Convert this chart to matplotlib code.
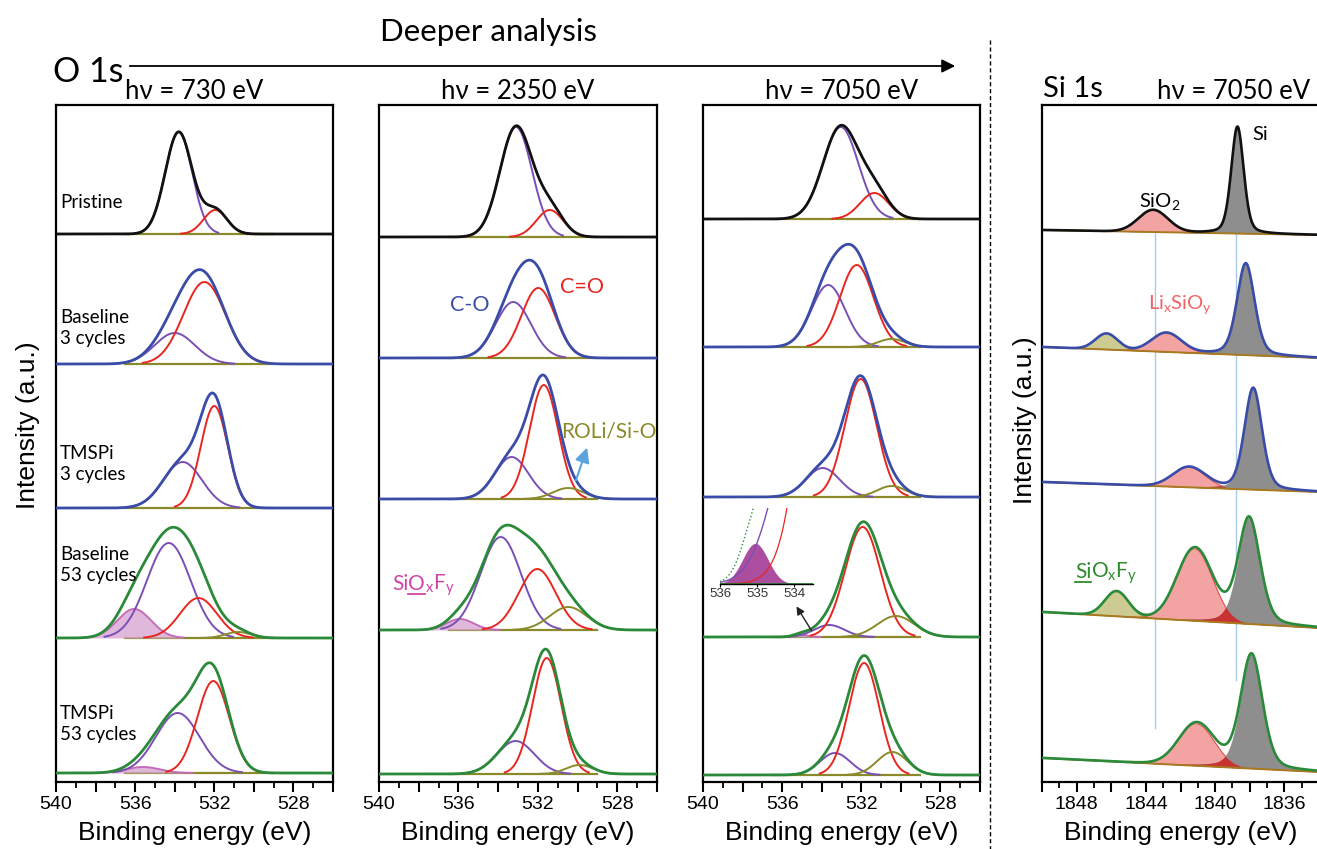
import numpy as np
import matplotlib.pyplot as plt
from matplotlib.patches import FancyArrowPatch
from matplotlib.lines import Line2D
from matplotlib.ticker import MultipleLocator, FuncFormatter

plt.rcParams['font.family'] = ['Liberation Sans', 'DejaVu Sans']
plt.rcParams['mathtext.fontset'] = 'custom'
plt.rcParams['mathtext.rm'] = 'Lato'

# ---------------- data ----------------
# stacking order of the spectra (top -> bottom)
samples = ['Pristine', 'Baseline\n3 cycles', 'TMSPi\n3 cycles', 'Baseline\n53 cycles', 'TMSPi\n53 cycles']
energies = ['730', '2350', '7050']

# baseline position of every spectrum (pixel row in the figure)
base_730 = [234, 364, 508, 638, 773]
base_2350 = [237, 358, 499, 630, 774]
base_7050 = [219, 347, 497, 637, 775]

# O 1s components: centre (eV), height (px), FWHM (eV)
co_c_730 = [533.8, 534.0, 533.6, 534.3, 533.85]
co_h_730 = [102, 31, 46, 95, 60]
co_w_730 = [1.6, 2.4, 2.3, 2.6, 2.6]
cdo_c_730 = [531.95, 532.5, 532.0, 532.8, 532.05]
cdo_h_730 = [24, 82, 102, 40, 92]
cdo_w_730 = [1.4, 2.5, 1.6, 2.2, 1.9]
roli_c_730 = [530.8, 530.8, 530.8, 530.8, 530.8]
roli_h_730 = [0, 0, 0, 6, 0]
roli_w_730 = [1.5, 1.5, 1.5, 1.5, 1.5]
siof_c_730 = [536.0, 536.0, 536.0, 536.05, 535.6]
siof_h_730 = [0, 0, 0, 29, 6]
siof_w_730 = [2.0, 2.0, 2.0, 2.0, 2.0]

co_c_2350 = [533.1, 533.24, 533.32, 533.87, 533.12]
co_h_2350 = [110, 56, 42, 93, 33]
co_w_2350 = [1.9, 2.1, 2.0, 2.4, 2.2]
cdo_c_2350 = [531.4, 531.98, 531.7, 532.03, 531.55]
cdo_h_2350 = [27, 70, 114, 61, 116]
cdo_w_2350 = [1.6, 2.0, 1.7, 2.2, 1.7]
roli_c_2350 = [530.5, 530.5, 530.47, 530.47, 529.9]
roli_h_2350 = [0, 0, 11, 23, 9]
roli_w_2350 = [1.8, 1.8, 1.8, 2.2, 1.6]
siof_c_2350 = [535.9, 535.9, 535.9, 535.92, 535.9]
siof_h_2350 = [0, 0, 0, 11, 0]
siof_w_2350 = [1.6, 1.6, 1.6, 1.6, 1.6]

co_c_7050 = [533.04, 533.67, 533.95, 533.62, 533.33]
co_h_7050 = [92, 62, 29, 12, 22]
co_w_7050 = [2.1, 2.0, 2.0, 1.8, 1.8]
cdo_c_7050 = [531.34, 532.23, 532.03, 531.93, 531.86]
cdo_h_7050 = [26, 82, 118, 110, 112]
cdo_w_7050 = [1.7, 2.0, 1.9, 2.1, 1.8]
roli_c_7050 = [530.5, 530.47, 530.47, 530.25, 530.43]
roli_h_7050 = [0, 8, 11, 21, 23]
roli_w_7050 = [1.6, 1.6, 1.7, 2.2, 1.8]
siof_c_7050 = [535.05, 535.05, 535.05, 535.05, 535.05]
siof_h_7050 = [0, 0, 0, 2.3, 0]
siof_w_7050 = [0.8, 0.8, 0.8, 0.8, 0.8]

# Si 1s (hv = 7050 eV): sloped baseline, left / right end (pixel row)
si_base_left = [230, 347, 482, 612, 758]
si_base_right = [235, 358, 492, 628, 772]
si_c = [1838.71, 1838.23, 1837.8, 1838.04, 1837.9]
si_h = [107, 92, 102, 107, 115]
si_w = [0.85, 1.2, 1.2, 1.5, 1.5]
sio_c = [1843.58, 1842.81, 1841.5, 1841.17, 1841.07]
sio_h = [22, 19, 20, 72, 42]
sio_w = [2.0, 2.0, 2.2, 2.4, 2.4]
siofy_c = [1846.0, 1846.27, 1846.0, 1845.69, 1846.0]
siofy_h = [0, 16, 0, 25, 0]
siofy_w = [1.5, 1.5, 1.5, 1.6, 1.5]

# ---------------- styling ----------------
W, H = 1317, 849
TOP, BOT = 105, 782
BLACK, BLUE, GREEN = '#111111', '#3a4ca8', '#2b8a3a'
PURPLE, RED, OLIVE = '#7a4fb5', '#e8261f', '#8a8a2a'
PINK_FILL, PINK_EDGE = '#d9a6d3', '#c46cba'
row_color = [BLACK, BLUE, BLUE, GREEN, GREEN]
LATO = ['Lato', 'DejaVu Sans']

fig = plt.figure(figsize=(W / 100, H / 100), dpi=100)


def px_axes(x0, x1, y0, y1):
    return fig.add_axes([x0 / W, 1 - y1 / H, (x1 - x0) / W, (y1 - y0) / H])


def ftext(x, y, s, **kw):
    return fig.text(x / W, 1 - y / H, s, **kw)


def peak(e, c, h, w, eta=0.0):
    d = (e - c) / w
    return h * ((1 - eta) * np.exp(-4 * np.log(2) * d ** 2) + eta / (1 + 4 * d ** 2))


def style_axis(ax, lo, hi):
    ax.set_xlim(lo, hi)
    ax.set_ylim(0, BOT - TOP)
    ax.set_yticks([])
    for s in ax.spines.values():
        s.set_linewidth(1.6)
    ax.xaxis.set_major_locator(MultipleLocator(2))
    ax.xaxis.set_minor_locator(MultipleLocator(1))
    ax.xaxis.set_major_formatter(FuncFormatter(lambda v, p: f'{v:.0f}' if round(v) % 4 == 0 else ''))
    ax.tick_params(axis='x', which='major', direction='out', length=7, width=1.5, labelsize=14, pad=3)
    ax.tick_params(axis='x', which='minor', direction='out', length=4, width=1.3)


# ---------------- O 1s columns ----------------
o1s = [
    (56, 333, base_730, (co_c_730, co_h_730, co_w_730), (cdo_c_730, cdo_h_730, cdo_w_730),
     (roli_c_730, roli_h_730, roli_w_730), (siof_c_730, siof_h_730, siof_w_730)),
    (379, 657, base_2350, (co_c_2350, co_h_2350, co_w_2350), (cdo_c_2350, cdo_h_2350, cdo_w_2350),
     (roli_c_2350, roli_h_2350, roli_w_2350), (siof_c_2350, siof_h_2350, siof_w_2350)),
    (703, 980, base_7050, (co_c_7050, co_h_7050, co_w_7050), (cdo_c_7050, cdo_h_7050, cdo_w_7050),
     (roli_c_7050, roli_h_7050, roli_w_7050), (siof_c_7050, siof_h_7050, siof_w_7050)),
]

e = np.linspace(540, 526, 1000)
for x0, x1, base, co, cdo, roli, siof in o1s:
    ax = px_axes(x0, x1, TOP, BOT)
    style_axis(ax, 540, 526)
    for r in range(5):
        y0 = BOT - base[r]
        total = np.zeros_like(e)
        # olive background under the fitted region
        fit = (e < 536.5) & (e > 529.0)
        ax.plot(e[fit], np.full(fit.sum(), y0), color=OLIVE, lw=1.6, zorder=2)
        for (cs, hs, ws), col in [(siof, PINK_EDGE), (co, PURPLE), (cdo, RED), (roli, OLIVE)]:
            if hs[r] <= 0:
                continue
            comp = peak(e, cs[r], hs[r], ws[r])
            total += comp
            m = np.abs(e - cs[r]) < 1.25 * ws[r]
            if col == PINK_EDGE:
                ax.fill_between(e[m], y0, y0 + comp[m], color=PINK_FILL, alpha=0.8, lw=0, zorder=3)
            ax.plot(e[m], y0 + comp[m], color=col, lw=1.4, zorder=4)
        ax.plot(e, y0 + total, color=row_color[r], lw=2.0, zorder=5)

# sample names in the first column
label_y = [202, 328, 464, 565, 724]
for name, y in zip(samples, label_y):
    ftext(60, y, name, fontsize=13.5, family=LATO, va='center', ha='left', linespacing=1.25)

# component labels
ftext(470, 305, 'C-O', color=BLUE, fontsize=15.5, family=LATO, ha='center', va='center')
ftext(582, 287, 'C=O', color=RED, fontsize=15.5, family=LATO, ha='center', va='center')
ftext(609, 432, 'ROLi/Si-O', color=OLIVE, fontsize=15, family=LATO, ha='center', va='center')
fig.add_artist(FancyArrowPatch((575 / W, 1 - 483 / H), (588 / W, 1 - 445 / H), transform=fig.transFigure,
                               arrowstyle='-|>', mutation_scale=22, lw=1.5, color='#5aa3dc'))

# SiOxFy label in the 2350 eV column, O underlined
fig.canvas.draw()
rend = fig.canvas.get_renderer()
t = ftext(392, 590, 'Si', color='#d045a6', fontsize=15, family=LATO, ha='left', va='baseline')
bb = t.get_window_extent(rend)
t2 = fig.text(bb.x1 / W, 1 - 590 / H, 'O', color='#d045a6', fontsize=15, family=LATO, ha='left', va='baseline')
bb2 = t2.get_window_extent(rend)
fig.text(bb2.x1 / W, 1 - 590 / H, r'$\mathregular{_x}$F$\mathregular{_y}$', color='#d045a6', fontsize=15,
         family=LATO, ha='left', va='baseline')
fig.add_artist(Line2D([bb2.x0 / W, bb2.x1 / W], [1 - 594 / H] * 2, color='#d045a6', lw=1.3))

# inset with the small SiOxFy peak (7050 eV, Baseline 53 cycles)
ins = px_axes(720, 813, 508, 584)
ins.set_facecolor('none')
ei = np.linspace(536.3, 533.4, 300)
mag = peak(ei, siof_c_7050[3], siof_h_7050[3], siof_w_7050[3])
pur = peak(ei, co_c_7050[3], co_h_7050[3], co_w_7050[3])
red = peak(ei, cdo_c_7050[3], cdo_h_7050[3], cdo_w_7050[3])
ins.fill_between(ei, 0, mag, color='#9c2f8f', alpha=0.85, lw=0)
ins.plot(ei, pur, color=PURPLE, lw=1.0)
ins.plot(ei, red, color=RED, lw=0.9)
ins.plot(ei, mag + pur + red, color=GREEN, lw=1.0, ls=':')
ins.axhline(0, color=GREEN, lw=1.2)
ins.set_xlim(536, 533.5)
ins.set_ylim(0, 4.3)
for s in ['top', 'left', 'right']:
    ins.spines[s].set_visible(False)
ins.spines['bottom'].set_linewidth(1.0)
ins.set_yticks([])
ins.set_xticks([536, 535, 534])
ins.tick_params(axis='x', length=2, labelsize=9.5, pad=1, labelcolor='#333333')
fig.add_artist(FancyArrowPatch((813 / W, 1 - 633 / H), (795 / W, 1 - 604 / H), transform=fig.transFigure,
                               arrowstyle='-|>', mutation_scale=12, lw=1.0, color='#222222'))

# ---------------- Si 1s column ----------------
ax = px_axes(1042, 1319, TOP, BOT)
style_axis(ax, 1850, 1834)
es = np.linspace(1850, 1834, 1000)
for r in range(5):
    bl = BOT - (si_base_left[r] + (si_base_right[r] - si_base_left[r]) * (1850 - es) / 16)
    si = peak(es, si_c[r], si_h[r], si_w[r], eta=0.3)
    sio = peak(es, sio_c[r], sio_h[r], sio_w[r])
    olv = peak(es, siofy_c[r], siofy_h[r], siofy_w[r])
    ax.fill_between(es, bl, bl + sio, color='#f4a3a3', lw=0, zorder=2)
    ax.plot(es, bl + sio, color='#e05050', lw=0.8, zorder=3)
    if siofy_h[r] > 0:
        ax.fill_between(es, bl, bl + olv, color='#cccc92', lw=0, zorder=2)
        ax.plot(es, bl + olv, color=OLIVE, lw=0.8, zorder=3)
    ax.fill_between(es, bl, bl + si, color='#8e8e8e', lw=0, zorder=3)
    ax.fill_between(es, bl, bl + np.minimum(si, sio), color='#c83232', lw=0, zorder=4)
    ax.plot(es, bl, color='#a87a20', lw=1.4, zorder=4)
    ax.plot(es, bl + si + sio + olv, color=row_color[r], lw=1.9, zorder=5)

# guide lines at the SiO2 and Si positions
ax.plot([1843.5, 1843.5], [BOT - 232, BOT - 728], color='#a9cbe8', lw=1.0, zorder=1)
ax.plot([1838.77, 1838.77], [BOT - 232, BOT - 680], color='#a9cbe8', lw=1.0, zorder=1)

ftext(1260, 134, 'Si', fontsize=14.5, family=LATO, ha='center', va='center')
ftext(1160, 201, r'SiO$\mathregular{_2}$', fontsize=14.5, family=LATO, ha='center', va='center')
ftext(1180, 305, r'Li$\mathregular{_x}$SiO$\mathregular{_y}$', color='#f06464', fontsize=14.5, family=LATO,
      ha='center', va='center')
t = ftext(1075, 578, 'Si', color='#2e8b2e', fontsize=15, family=LATO, ha='left', va='baseline')
bb = t.get_window_extent(rend)
fig.text(bb.x1 / W, 1 - 578 / H, r'O$\mathregular{_x}$F$\mathregular{_y}$', color='#2e8b2e', fontsize=15,
         family=LATO, ha='left', va='baseline')
fig.add_artist(Line2D([bb.x0 / W, bb.x1 / W], [1 - 582 / H] * 2, color='#2e8b2e', lw=1.3))

# ---------------- axis labels and header ----------------
for x0, x1 in [(56, 333), (379, 657), (703, 980), (1042, 1319)]:
    ftext((x0 + x1) / 2, 833, 'Binding energy (eV)', fontsize=19, ha='center', va='center')
ftext(28, 425, 'Intensity (a.u.)', fontsize=19, rotation=90, ha='center', va='center')
ftext(1025, 420, 'Intensity (a.u.)', fontsize=19, rotation=90, ha='center', va='center')

for (x0, x1), en in zip([(56, 333), (379, 657), (703, 980)], energies):
    ftext((x0 + x1) / 2, 99, f'h\u03bd = {en} eV', fontsize=18.5, family=LATO, ha='center', va='baseline')
ftext(1157, 99, 'h\u03bd = 7050 eV', fontsize=18.5, family=LATO, ha='left', va='baseline')
ftext(1043, 97, 'Si 1s', fontsize=21, family=LATO, ha='left', va='baseline')

ftext(53, 82, 'O 1s', fontsize=24.5, family=LATO, ha='left', va='baseline')
ftext(488, 41, 'Deeper analysis', fontsize=22.5, family=LATO, ha='center', va='baseline')
fig.add_artist(FancyArrowPatch((127 / W, 1 - 66 / H), (958 / W, 1 - 66 / H), transform=fig.transFigure,
                               arrowstyle='-|>', mutation_scale=20, lw=1.3, color='k'))
fig.add_artist(Line2D([990 / W] * 2, [1 - 40 / H, 0], color='k', lw=1.0, ls=(0, (3, 2))))

fig.savefig('out.png', dpi=100)
